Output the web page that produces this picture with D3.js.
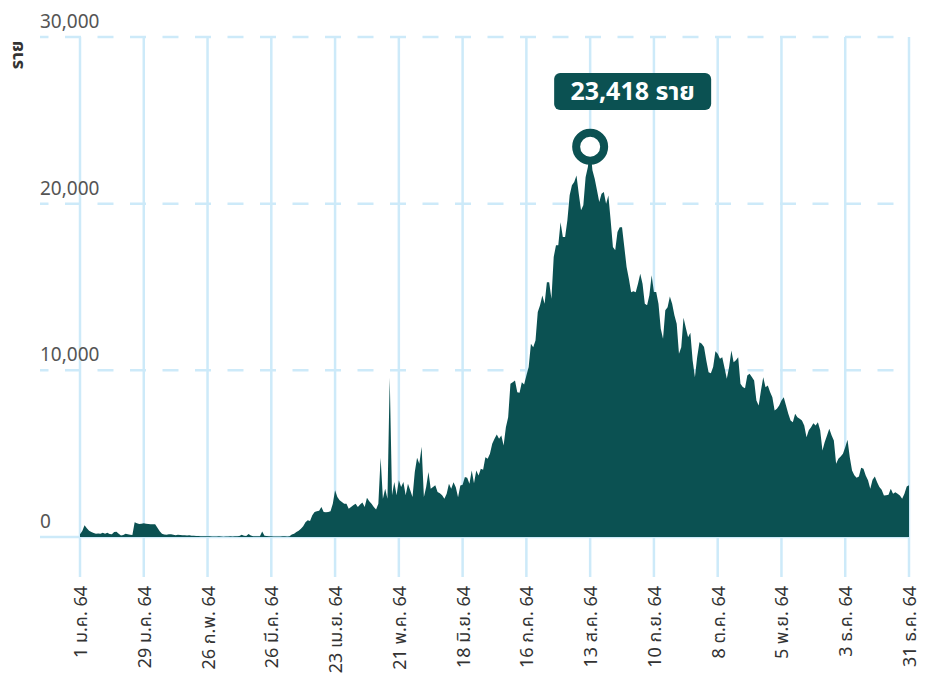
<!DOCTYPE html>
<html>
<head>
<meta charset="utf-8">
<script src="https://cdn.jsdelivr.net/npm/d3@7"></script>
<style>
  body { margin: 0; background: #fff; }
  svg { display: block; font-family: "Noto Sans", "Noto Sans Thai", "Tlwg Typist", sans-serif; }
</style>
</head>
<body>
<div class="chart"></div>
<script>
const width = 928;
const height = 675;

// daily new cases, 2564 (2021), one array per month
const jan = [160, 360, 700, 520, 380, 300, 240, 200, 210, 190, 250, 200, 260, 180, 160, 300, 320, 200, 90, 120, 200, 160, 140, 120, 880, 820, 780, 800, 820, 800, 780];
const feb = [770, 760, 760, 560, 350, 200, 150, 140, 160, 170, 140, 110, 130, 120, 110, 100, 90, 110, 80, 70, 60, 60, 50, 50, 40, 40, 40, 30];
const mar = [30, 30, 40, 30, 20, 30, 30, 40, 30, 40, 50, 60, 130, 80, 60, 180, 90, 50, 40, 40, 50, 330, 80, 60, 40, 40, 30, 30, 30, 30, 40];
const apr = [40, 30, 50, 150, 200, 300, 380, 500, 640, 880, 1000, 960, 1300, 1500, 1550, 1580, 1800, 1500, 1480, 1500, 1550, 2000, 2800, 2400, 2200, 2100, 2000, 2000, 1700, 1800];
const may = [1900, 2000, 1800, 1950, 2070, 1800, 2350, 2150, 2000, 1800, 1650, 2000, 4760, 2300, 2900, 2300, 9560, 2500, 3300, 2500, 3400, 3000, 3300, 2500, 3200, 2800, 2400, 3900, 4760, 4400, 5420];
const jun = [2400, 3000, 3900, 2900, 3000, 3100, 2700, 2630, 2500, 2290, 2600, 3190, 2890, 3290, 2990, 2390, 3090, 3130, 3600, 3550, 3190, 3990, 3230, 3990, 3690, 4090, 4030, 4790, 4690, 4990];
const jul = [5600, 5900, 6150, 5890, 6090, 5490, 6590, 7190, 9190, 9290, 9390, 8690, 8650, 9290, 9150, 9690, 10200, 11590, 11390, 11790, 13500, 13900, 14490, 14000, 15290, 15290, 14300, 16800, 17500, 17500, 18890];
const aug = [18000, 18000, 19000, 20500, 21100, 21300, 21690, 20600, 19600, 19900, 21590, 22200, 23418, 22000, 21500, 20800, 20100, 20600, 20700, 20000, 20490, 19000, 17400, 17200, 18300, 18590, 18590, 17400, 16200, 15500, 14690];
const sep = [14750, 14690, 15200, 15800, 15200, 14000, 13900, 14500, 15700, 14700, 14700, 14000, 12500, 11900, 13600, 13790, 14430, 14000, 13300, 12790, 11000, 11390, 13150, 12550, 11990, 12250, 10590, 9590, 10800, 11690];
const oct = [11600, 11400, 10590, 9890, 9830, 10200, 11150, 11000, 10690, 10790, 10150, 9490, 10190, 11190, 10490, 10600, 10790, 9190, 9000, 8930, 9690, 9790, 9600, 9390, 8190, 7890, 8790, 9590, 8990, 9090, 8700];
const nov = [8390, 7590, 7700, 7890, 8190, 8390, 7890, 7400, 6990, 6890, 7390, 7190, 7100, 6990, 6690, 5990, 6400, 6590, 6830, 6690, 6890, 6400, 5190, 5700, 6090, 6490, 6100, 5790, 4390, 4700];
const dec = [4830, 4990, 5390, 5830, 4790, 3990, 3700, 3550, 3630, 4150, 4090, 3690, 3400, 2890, 3430, 3630, 3290, 3000, 2830, 2490, 2500, 2530, 2890, 2590, 2690, 2600, 2490, 2290, 2590, 3030, 3100];

const yTicks = [0, 10000, 20000, 30000];
const xTickLabels = ["1 ม.ค. 64", "29 ม.ค. 64", "26 ก.พ. 64", "26 มี.ค. 64", "23 เม.ย. 64", "21 พ.ค. 64",
  "18 มิ.ย. 64", "16 ก.ค. 64", "13 ส.ค. 64", "10 ก.ย. 64", "8 ต.ค. 64", "5 พ.ย. 64", "3 ธ.ค. 64", "31 ธ.ค. 64"];

const start = new Date(2021, 0, 1);
const values = [].concat(jan, feb, mar, apr, may, jun, jul, aug, sep, oct, nov, dec);
const data = values.map((v, i) => ({date: d3.timeDay.offset(start, i), value: v}));
const xTicks = xTickLabels.map((t, i) => d3.timeDay.offset(start, i * 28));

const peak = data.reduce((a, b) => b.value > a.value ? b : a);

const teal = "#0b5152";
const grid = "#cdeaf9";

const x = d3.scaleTime()
    .domain([start, data[data.length - 1].date])
    .range([80, 909]);
const y = d3.scaleLinear()
    .domain([0, 30000])
    .range([537, 37]);

const svg = d3.select(".chart")
    .append("svg")
    .attr("width", width)
    .attr("height", height)
    .attr("viewBox", [0, 0, width, height]);

// vertical grid lines
svg.append("g")
    .selectAll("line")
    .data(xTicks)
    .join("line")
    .attr("x1", d => x(d))
    .attr("x2", d => x(d))
    .attr("y1", y(30000))
    .attr("y2", 577)
    .attr("stroke", grid)
    .attr("stroke-width", 2.5);

// horizontal grid lines (dashed above zero)
svg.append("g")
    .selectAll("line")
    .data(yTicks)
    .join("line")
    .attr("x1", 40)
    .attr("x2", 909)
    .attr("y1", d => y(d))
    .attr("y2", d => y(d))
    .attr("stroke", grid)
    .attr("stroke-width", 2.5)
    .attr("stroke-dasharray", d => d === 0 ? null : "16 16.5")
    .attr("stroke-dashoffset", 7.5);

// area
const area = d3.area()
    .x(d => x(d.date))
    .y0(y(0))
    .y1(d => y(d.value));

svg.append("path")
    .datum(data)
    .attr("fill", teal)
    .attr("d", area);

// y tick labels
svg.append("g")
    .selectAll("text")
    .data(yTicks)
    .join("text")
    .attr("x", 40)
    .attr("y", d => y(d) - 9)
    .attr("fill", "#555")
    .attr("font-size", 19)
    .text(d => d3.format(",")(d));

svg.append("text")
    .attr("transform", "translate(23,55) rotate(-90)")
    .attr("text-anchor", "middle")
    .attr("font-size", 18)
    .attr("font-weight", "bold")
    .attr("fill", "#333")
    .text("ราย");

// x tick labels
svg.append("g")
    .selectAll("text")
    .data(xTicks)
    .join("text")
    .attr("transform", d => `translate(${x(d) + 7},586) rotate(-90)`)
    .attr("text-anchor", "end")
    .attr("font-size", 18)
    .attr("fill", "#333")
    .text((d, i) => xTickLabels[i]);

// peak annotation
const px = x(peak.date), py = y(peak.value);

svg.append("circle")
    .attr("cx", px)
    .attr("cy", py)
    .attr("r", 14)
    .attr("fill", "#fff")
    .attr("stroke", teal)
    .attr("stroke-width", 8);

svg.append("rect")
    .attr("x", px - 36)
    .attr("y", 73)
    .attr("width", 157)
    .attr("height", 37)
    .attr("rx", 6)
    .attr("fill", teal);

svg.append("text")
    .attr("x", px + 42.5)
    .attr("y", 100)
    .attr("text-anchor", "middle")
    .attr("font-size", 25)
    .attr("font-weight", "bold")
    .attr("fill", "#fff")
    .text(d3.format(",")(peak.value) + " ราย");
</script>
</body>
</html>
